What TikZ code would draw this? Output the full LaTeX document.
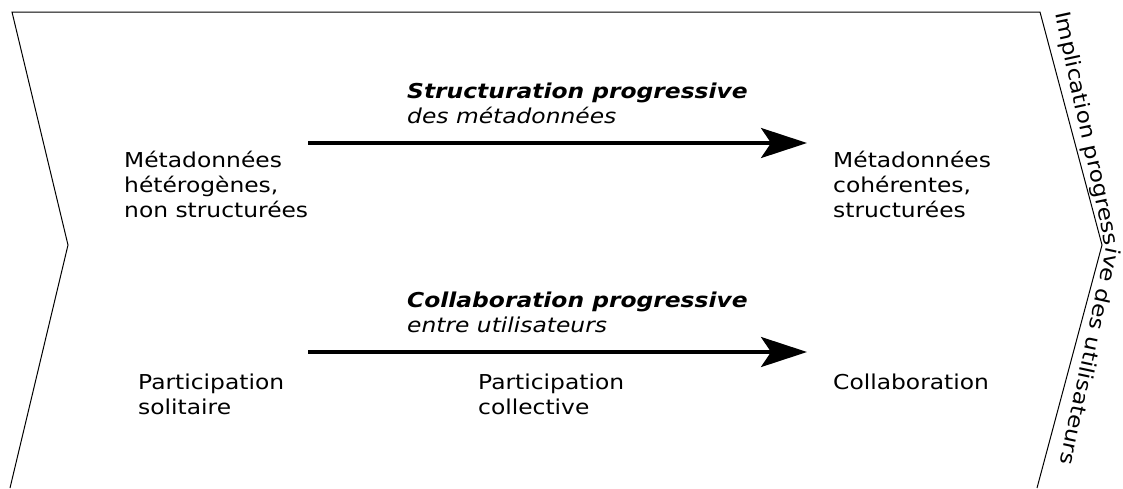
\documentclass[tikz,border=0pt]{standalone}
\usepackage{fontspec}
\setmainfont{DejaVu Sans}[FakeStretch=1.14]
\usetikzlibrary{arrows.meta,decorations.text}

\begin{document}
\begin{tikzpicture}[x=1pt, y=-1pt,
    every node/.style={inner sep=0pt, font=\fontsize{20.5}{25}\selectfont},
    etiq/.style={anchor=base west, align=left},
    titre/.style={anchor=base west, font=\fontsize{20.5}{25}\selectfont\bfseries\itshape},
    soustitre/.style={anchor=base west, font=\fontsize{20.5}{25}\selectfont\itshape},
    fleche/.style={line width=3.5pt, -{Stealth[length=46pt, width=30pt, inset=10pt]}}]

	\useasboundingbox (0,0) rectangle (1123,488);

	% contour en chevron
	\coordinate (hg) at (12,12);
	\coordinate (creux) at (68,245);
	\coordinate (bg) at (10,488);
	\coordinate (hd) at (1040,12);
	\coordinate (pointe) at (1102,245);
	\coordinate (bd) at (1037,488);
	\draw[line width=1pt] (bg) -- (creux) -- (hg) -- (hd) -- (pointe) -- (bd);

	% texte le long du bord droit
	\coordinate (t1) at (1055,13);
	\coordinate (t2) at (1106,249);
	\coordinate (t3) at (1060,463);
	\path[decorate, decoration={text along path, text align={fit to path},
	    text={|\fontsize{20.5}{25}\selectfont|Implication progressive des utilisateurs}}]
	    (t1) -- (t2) -- (t3);

	% structuration (base = derniere ligne)
	\node[titre] (s1) at (407,98) {Structuration progressive};
	\node[soustitre] (s2) at (407,123) {des métadonnées};
	\coordinate (d1) at (308,143);
	\coordinate (f1) at (807,143);
	\draw[fleche] (d1) -- (f1);
	\node[etiq] (m1) at (124,217) {Métadonnées\\hétérogènes,\\non structurées};
	\node[etiq] (m2) at (833,217) {Métadonnées\\cohérentes,\\structurées};

	% collaboration
	\node[titre] (c1) at (407,307) {Collaboration progressive};
	\node[soustitre] (c2) at (407,332) {entre utilisateurs};
	\coordinate (d2) at (308,352);
	\coordinate (f2) at (807,352);
	\draw[fleche] (d2) -- (f2);
	\node[etiq] (p1) at (138,414) {Participation\\solitaire};
	\node[etiq] (p2) at (478,414) {Participation\\collective};
	\node[etiq] (p3) at (833,389) {Collaboration};

\end{tikzpicture}
\end{document}
